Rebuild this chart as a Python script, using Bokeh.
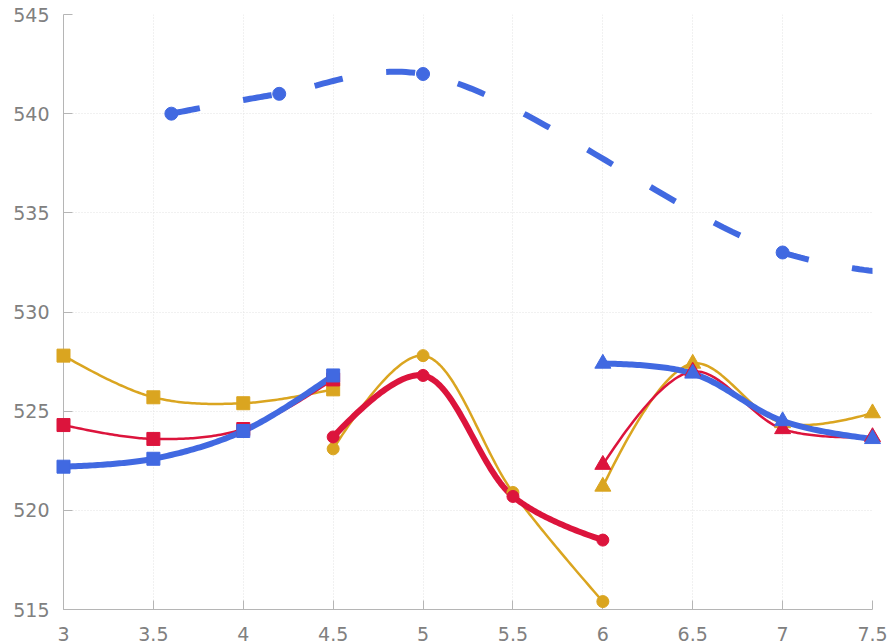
import numpy as np
from bokeh.plotting import figure
from bokeh.models import Range1d, FixedTicker
from bokeh.embed import file_html
from bokeh.resources import INLINE

# ---------------- data ----------------
dash_x = [3.6, 4.2, 5.0, 7.0, 8.0]
dash_y = [540.0, 541.0, 542.0, 533.0, 531.7]

sq_x = [3.0, 3.5, 4.0, 4.5]
sq_gold = [527.8, 525.7, 525.4, 526.1]
sq_red = [524.3, 523.6, 524.1, 526.6]
sq_blue = [522.2, 522.6, 524.0, 526.8]

ci_x = [4.5, 5.0, 5.5, 6.0]
ci_gold = [523.1, 527.8, 520.9, 515.4]
ci_red = [523.7, 526.8, 520.7, 518.5]

tr_x = [6.0, 6.5, 7.0, 7.5]
tr_gold = [521.2, 527.4, 524.4, 524.9]
tr_red = [522.3, 527.0, 524.1, 523.7]
tr_blue = [527.4, 526.9, 524.5, 523.6]

x_ticks = [3, 3.5, 4, 4.5, 5, 5.5, 6, 6.5, 7, 7.5]
y_ticks = [515, 520, 525, 530, 535, 540, 545]

BLUE = "#4169E1"
RED = "#DC143C"
GOLD = "#DAA520"

# ---------------- layout ----------------
W, H = 891, 644
BL, BR, BT, BB = 63, 19, 14, 35
X0, X1, Y0, Y1 = 3.0, 7.5, 515.0, 545.0
SX = (W - BL - BR) / (X1 - X0)
SY = (H - BT - BB) / (Y1 - Y0)


def smooth(xs, ys, smoothness=1.0, n=40):
    """Centripetal Catmull-Rom style spline through the points (screen space)."""
    pts = np.column_stack([np.asarray(xs, float) * SX, np.asarray(ys, float) * SY])
    m = len(pts)
    if m < 3:
        return np.asarray(xs, float), np.asarray(ys, float)
    back, fwd = {}, {}
    for i in range(1, m - 1):
        d1 = pts[i - 1] - pts[i]
        d2 = pts[i + 1] - pts[i]
        d1a = np.hypot(*d1) ** 0.5
        d2a = np.hypot(*d2) ** 0.5
        num = (d2a * d2a * d1 - d1a * d1a * d2) * smoothness
        den1 = 3 * d2a * (d1a + d2a)
        den2 = 3 * d1a * (d1a + d2a)
        back[i] = pts[i] + num / den1
        fwd[i] = pts[i] - num / den2
    t = np.linspace(0, 1, n)[:, None]
    segs = []
    p0, c, p1 = pts[0], back[1], pts[1]
    segs.append((1 - t) ** 2 * p0 + 2 * t * (1 - t) * c + t ** 2 * p1)
    for i in range(1, m - 2):
        p0, c1, c2, p1 = pts[i], fwd[i], back[i + 1], pts[i + 1]
        segs.append((1 - t) ** 3 * p0 + 3 * (1 - t) ** 2 * t * c1 + 3 * (1 - t) * t ** 2 * c2 + t ** 3 * p1)
    p0, c, p1 = pts[m - 2], fwd[m - 2], pts[m - 1]
    segs.append((1 - t) ** 2 * p0 + 2 * t * (1 - t) * c + t ** 2 * p1)
    out = np.vstack([segs[0]] + [s[1:] for s in segs[1:]])
    return out[:, 0] / SX, out[:, 1] / SY


p = figure(width=W, height=H, output_backend="svg", toolbar_location=None,
           x_range=Range1d(X0, X1), y_range=Range1d(Y0, Y1),
           min_border_left=BL, min_border_right=BR, min_border_top=BT, min_border_bottom=BB)
p.outline_line_color = None
p.background_fill_color = "white"
p.border_fill_color = "white"

for ax, ticks in ((p.xaxis, x_ticks), (p.yaxis, y_ticks)):
    ax.ticker = FixedTicker(ticks=ticks)
    ax.axis_line_color = "#b5b5b5"
    ax.major_tick_line_color = "#b5b5b5"
    ax.major_tick_in = 9
    ax.major_tick_out = 0
    ax.minor_tick_line_color = None
    ax.major_label_text_color = "#808080"
    ax.major_label_text_font = "DejaVu Sans"
    ax.major_label_text_font_size = "19px"
p.xaxis.major_label_standoff = 17
p.yaxis.major_label_standoff = 14
p.xaxis.major_label_overrides = {3: "3", 4: "4", 5: "5", 6: "6", 7: "7"}

p.xgrid.ticker = FixedTicker(ticks=x_ticks)
p.ygrid.ticker = FixedTicker(ticks=y_ticks)
for g in (p.xgrid, p.ygrid):
    g.grid_line_color = "#e3e3e3"
    g.grid_line_dash = "1 2"
    g.grid_line_width = 1


def markers(xs, ys, marker, size, col):
    # markers within the visible x-range, drawn above the frame clip
    keep = [(x, y) for x, y in zip(xs, ys) if X0 <= x <= X1]
    r = p.scatter([k[0] for k in keep], [k[1] for k in keep], marker=marker, size=size,
                  fill_color=col, line_color=col)
    r.level = "overlay"


# dashed blue with circles
lx, ly = smooth(dash_x, dash_y)
p.line(lx, ly, line_color=BLUE, line_width=6, line_dash="29 44", line_cap="butt")
markers(dash_x, dash_y, "circle", 13, BLUE)

# squares group
for ys, col, lw in ((sq_gold, GOLD, 2.5), (sq_red, RED, 2.5), (sq_blue, BLUE, 6)):
    lx, ly = smooth(sq_x, ys)
    p.line(lx, ly, line_color=col, line_width=lw, line_join="round", line_cap="round")
    markers(sq_x, ys, "square", 13, col)

# circles group
for ys, col, lw in ((ci_gold, GOLD, 2.5), (ci_red, RED, 6)):
    lx, ly = smooth(ci_x, ys)
    p.line(lx, ly, line_color=col, line_width=lw, line_join="round", line_cap="round")
    markers(ci_x, ys, "circle", 12, col)

# triangles group
for ys, col, lw in ((tr_gold, GOLD, 2.5), (tr_red, RED, 2.5), (tr_blue, BLUE, 6)):
    lx, ly = smooth(tr_x, ys)
    p.line(lx, ly, line_color=col, line_width=lw, line_join="round", line_cap="round")
    markers(tr_x, ys, "triangle", 16, col)

open("out.html", "w").write(file_html(p, INLINE))
